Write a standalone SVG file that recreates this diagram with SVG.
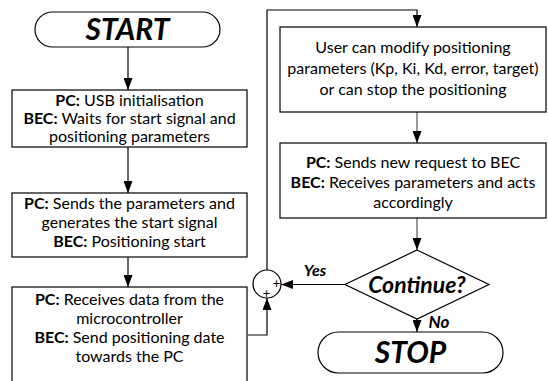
<svg xmlns="http://www.w3.org/2000/svg" width="548" height="381" viewBox="0 0 548 381">
<defs>
<marker id="ah" viewBox="0 0 12 9" refX="12" refY="4.5" markerWidth="12" markerHeight="9" markerUnits="userSpaceOnUse" orient="auto">
<path d="M0,0 L12,4.5 L0,9 z" fill="#000"/>
</marker>
<style>
.box{fill:#fff;stroke:#000;stroke-width:1.2}
.t{font-family:Lato,"Liberation Sans",Arial,sans-serif;font-size:16px;fill:#000;text-anchor:middle}
.b{font-weight:bold}
.big{font-family:Lato,"Liberation Sans",Arial,sans-serif;font-weight:bold;font-style:italic;fill:#000;text-anchor:middle}
.c{fill:none;stroke:#000;stroke-width:1.2;marker-end:url(#ah)}
.g{stroke:#555}
.pl{font-family:Lato,"Liberation Sans",Arial,sans-serif;font-size:13px;fill:#000;text-anchor:middle}
</style>
</defs>
<g id="connectors">
<path class="c" d="M128,47 V90"/>
<path class="c" d="M128,147 V193"/>
<path class="c" d="M128,257 V287"/>
<path class="c" d="M248,335 H267 V298"/>
<path class="c" d="M267,270 V10 H417 V27"/>
<path class="c g" d="M417,112 V143"/>
<path class="c g" d="M417,218 V250"/>
<path class="c" d="M345,284.5 H281"/>
<path class="c" d="M417,319 V332"/>
</g>
<g id="start">
<rect class="box" x="35" y="12" width="185" height="35" rx="17.5"/>
<text class="big" x="127.5" y="40" font-size="30">START</text>
</g>
<g id="box1">
<rect class="box" x="12" y="90" width="235" height="57"/>
<text class="t" x="129.5" y="106"><tspan class="b">PC:</tspan> USB initialisation</text>
<text class="t" x="129.5" y="124"><tspan class="b">BEC:</tspan> Waits for start signal and</text>
<text class="t" x="129.5" y="142">positioning parameters</text>
</g>
<g id="box2">
<rect class="box" x="12" y="193" width="235" height="64"/>
<text class="t" x="129.5" y="209"><tspan class="b">PC:</tspan> Sends the parameters and</text>
<text class="t" x="129.5" y="228">generates the start signal</text>
<text class="t" x="129.5" y="247"><tspan class="b">BEC:</tspan> Positioning start</text>
</g>
<g id="box3">
<rect class="box" x="12" y="287" width="235" height="110"/>
<text class="t" x="129.5" y="305"><tspan class="b">PC:</tspan> Receives data from the</text>
<text class="t" x="129.5" y="324">microcontroller</text>
<text class="t" x="129.5" y="343"><tspan class="b">BEC:</tspan> Send positioning date</text>
<text class="t" x="129.5" y="362">towards the PC</text>
</g>
<g id="sum">
<circle class="box" cx="267" cy="284" r="14"/>
<text class="pl" x="276.5" y="288">+</text>
<text class="pl" x="266.5" y="297.5">+</text>
</g>
<g id="user">
<rect class="box" x="280" y="27" width="266" height="85"/>
<text class="t" x="413" y="53">User can modify positioning</text>
<text class="t" x="413" y="74">parameters (Kp, Ki, Kd, error, target)</text>
<text class="t" x="413" y="95">or can stop the positioning</text>
</g>
<g id="request">
<rect class="box" x="280" y="143" width="266" height="75"/>
<text class="t" x="413" y="168"><tspan class="b">PC:</tspan> Sends new request to BEC</text>
<text class="t" x="413" y="188"><tspan class="b">BEC:</tspan> Receives parameters and acts</text>
<text class="t" x="413" y="208">accordingly</text>
</g>
<g id="decision">
<polygon class="box" points="417,250 489,284.5 417,319 345,284.5"/>
<text class="big" x="417" y="292.5" font-size="23">Continue?</text>
</g>
<text class="big" x="315" y="276" font-size="16">Yes</text>
<text class="big" x="439" y="328" font-size="17">No</text>
<g id="stop">
<rect class="box" x="318" y="332" width="185" height="41" rx="20.5"/>
<text class="big" x="410.5" y="363" font-size="30">STOP</text>
</g>
</svg>
